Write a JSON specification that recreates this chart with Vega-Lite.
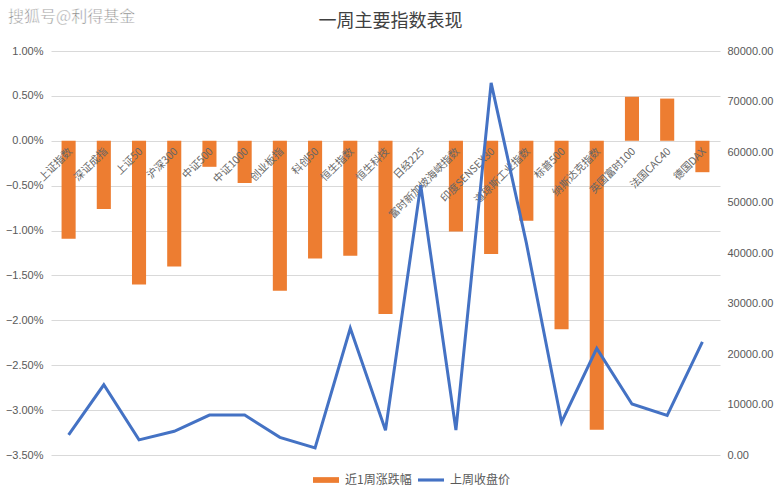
{
  "$schema": "https://vega.github.io/schema/vega-lite/v6.json",
  "width": 669,
  "height": 404,
  "autosize": {"type": "none"},
  "padding": {"left": 51, "top": 51, "right": 63, "bottom": 45},
  "background": "white",
  "title": {"text": "一周主要指数表现", "font": "Noto Sans CJK SC", "fontSize": 18, "fontWeight": "normal", "color": "#404040", "anchor": "middle", "offset": -22, "dx": 5},
  "config": {"view": {"stroke": null}},
  "data": {"values": [
    {"name": "上证指数", "chg": -0.0109, "close": 4000},
    {"name": "深证成指", "chg": -0.0076, "close": 13900},
    {"name": "上证50", "chg": -0.0160, "close": 3000},
    {"name": "沪深300", "chg": -0.0140, "close": 4700},
    {"name": "中证500", "chg": -0.0029, "close": 7900},
    {"name": "中证1000", "chg": -0.0047, "close": 7900},
    {"name": "创业板指", "chg": -0.0167, "close": 3500},
    {"name": "科创50", "chg": -0.0131, "close": 1400},
    {"name": "恒生指数", "chg": -0.0128, "close": 25100},
    {"name": "恒生科技", "chg": -0.0193, "close": 4900},
    {"name": "日经225", "chg": 0, "close": 53400},
    {"name": "富时新加坡海峡指数", "chg": -0.0101, "close": 4950},
    {"name": "印度SENSEX30", "chg": -0.0126, "close": 73700},
    {"name": "道琼斯工业指数", "chg": -0.0089, "close": 42000},
    {"name": "标普500", "chg": -0.0210, "close": 6500},
    {"name": "纳斯达克指数", "chg": -0.0322, "close": 21100},
    {"name": "英国富时100", "chg": 0.0049, "close": 10100},
    {"name": "法国CAC40", "chg": 0.0047, "close": 7850},
    {"name": "德国DAX", "chg": -0.0035, "close": 22400}
  ]},
  "layer": [
    {
      "layer": [
        {
          "mark": {"type": "bar", "color": "#ED7D31"},
          "encoding": {
            "x": {"field": "name", "type": "nominal", "sort": null, "axis": null,
                  "scale": {"paddingInner": 0.6, "paddingOuter": 0.3}},
            "y": {"field": "chg", "type": "quantitative",
                  "scale": {"domain": [-0.035, 0.01], "nice": false},
                  "axis": {"orient": "left", "values": [-0.035, -0.03, -0.025, -0.02, -0.015, -0.01, -0.005, 0, 0.005, 0.01],
                           "format": ".2%", "title": null, "grid": true, "gridColor": "#d9d9d9", "domain": false, "ticks": false,
                           "labelColor": "#595959", "labelFont": "Liberation Sans", "labelFontSize": 11, "labelPadding": 8}},
            "color": {"datum": "近1周涨跌幅", "type": "nominal",
                      "scale": {"domain": ["近1周涨跌幅", "上周收盘价"], "range": ["#ED7D31", "#4472C4"]},
                      "legend": {"orient": "none", "legendX": 262, "legendY": 416, "direction": "horizontal", "title": null,
                                 "symbolType": "M-1,-0.22H1V0.22H-1Z", "symbolSize": 676, "symbolStrokeWidth": 0,
                                 "labelFont": "Noto Sans CJK SC", "labelFontSize": 12, "labelColor": "#595959", "columnPadding": 6, "labelOffset": 6,
                                 "encode": {"symbols": {"update": {
                                   "fill": {"scale": "color", "field": "value"},
                                   "opacity": {"value": 1},
                                   "shape": {"signal": "datum.value === '上周收盘价' ? 'M-1,-0.12H1V0.12H-1Z' : 'M-1,-0.22H1V0.22H-1Z'"}}}}}}
          }
        },
        {
          "mark": {"type": "text", "angle": -45, "align": "right", "baseline": "middle", "dx": -5, "dy": 8,
                   "font": "Noto Sans CJK SC", "fontSize": 10.5, "color": "#666666"},
          "encoding": {
            "x": {"field": "name", "type": "nominal", "sort": null, "axis": null},
            "y": {"datum": 0, "type": "quantitative"},
            "text": {"field": "name"}
          }
        }
      ]
    },
    {
      "mark": {"type": "line", "color": "#4472C4", "strokeWidth": 3},
      "encoding": {
        "x": {"field": "name", "type": "nominal", "sort": null, "axis": null},
        "y": {"field": "close", "type": "quantitative",
              "scale": {"domain": [0, 80000], "nice": false},
              "axis": {"orient": "right", "values": [0, 10000, 20000, 30000, 40000, 50000, 60000, 70000, 80000],
                       "format": ".2f", "title": null, "grid": false, "domain": false, "ticks": false,
                       "labelColor": "#595959", "labelFont": "Liberation Sans", "labelFontSize": 11, "labelPadding": 7}},
        "color": {"datum": "上周收盘价", "type": "nominal"}
      }
    },
    {
      "data": {"values": [{"t": "搜狐号@利得基金"}]},
      "mark": {"type": "text", "align": "left", "baseline": "middle", "font": "Noto Sans CJK SC", "fontSize": 16,
               "color": "#7f7f7f", "stroke": "white", "strokeWidth": 0.5},
      "encoding": {
        "x": {"value": -43},
        "y": {"value": -34},
        "text": {"field": "t"}
      }
    }
  ],
  "resolve": {"scale": {"y": "independent"}}
}
